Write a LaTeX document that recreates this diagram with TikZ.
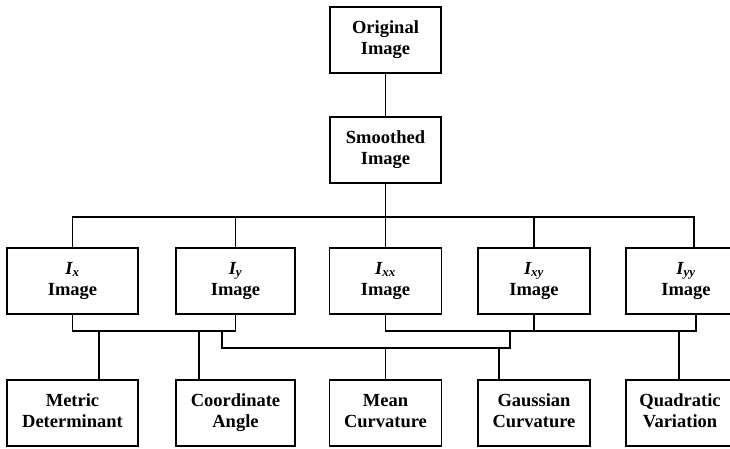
\documentclass[tikz,border=0pt]{standalone}
\usepackage{amsmath}
\usepackage{fontspec}
\setmainfont{Liberation Serif}
\usepackage{tikz}
\usetikzlibrary{positioning}

\newcommand{\dimg}[1]{{\itshape I}$_{\textbf{\textit{#1}}}$}
\newcommand{\topstrut}{\rule{0pt}{18pt}}
\newcommand{\botstrut}{\rule[-4.5pt]{0pt}{4.5pt}}

\begin{document}
\begin{tikzpicture}[x=1pt,y=-1pt]
\tikzstyle{block} = [rectangle, draw, line width=1.4pt, minimum height=66pt, inner sep=0pt, outer sep=0pt, align=center, font=\fontsize{18.5}{21}\selectfont\bfseries, execute at begin node=\topstrut, execute at end node=\botstrut];%
\tikzstyle{wire} = [line width=1.2pt];%

\clip (0,0) rectangle (730,448);

\node at (385.5,40)  [block, minimum width=111pt] (orig) {Original\\Image};
\node at (385.5,150) [block, minimum width=111pt] (smooth) {Smoothed\\Image};

\node at (72.5,281) [block, minimum width=131pt] (ix)  {\dimg{x}\\Image};
\node at (235.5,281) [block, minimum width=119pt] (iy)  {\dimg{y}\\Image};
\node at (385.5,281) [block, minimum width=112pt] (ixx) {\dimg{xx}\\Image};
\node at (534,281)  [block, minimum width=112pt] (ixy) {\dimg{xy}\\Image};
\node at (686,281)  [block, minimum width=120pt] (iyy) {\dimg{yy}\\Image};

\node at (72.5,413) [block, minimum width=131pt] (metric) {Metric\\Determinant};
\node at (235.5,413) [block, minimum width=119pt] (angle) {Coordinate\\Angle};
\node at (385.5,413) [block, minimum width=112pt] (mean) {Mean\\Curvature};
\node at (534,413)  [block, minimum width=112pt] (gauss) {Gaussian\\Curvature};
\node at (680,413)  [block, minimum width=108pt] (quad) {Quadratic\\Variation};

\coordinate (busT) at (0,217);
\coordinate (busA) at (0,331);
\coordinate (busB) at (0,348);
\coordinate (ja) at (222,331);
\coordinate (jc) at (510,331);

% original -> smoothed -> derivatives
\draw[wire] (orig) -- (smooth);
\draw[wire] (smooth) -- (ixx);
\draw[wire] (ix.north) |- ([xshift=8pt]iyy.north |- busT) -- ([xshift=8pt]iyy.north);
\draw[wire] (iy.north) -- (iy.north |- busT);
\draw[wire] (ixy.north) -- (ixy.north |- busT);

% first derivatives
\draw[wire] (ix.south) |- (iy.south |- busA) -- (iy.south);
\draw[wire] ([xshift=26.5pt]metric.north) -- ([xshift=26.5pt]metric.north |- busA);
\draw[wire] ([xshift=-36.5pt]angle.north) -- ([xshift=-36.5pt]angle.north |- busA);

% second derivatives
\draw[wire] (ixx.south) |- ([xshift=10pt]iyy.south |- busA) -- ([xshift=10pt]iyy.south);
\draw[wire] (ixy.south) -- (ixy.south |- busA);
\draw[wire] ([xshift=-1pt]quad.north) -- ([xshift=-1pt]quad.north |- busA);

% both
\draw[wire] (ja) |- (jc |- busB) -- (jc);
\draw[wire] (mean.north) -- (mean.north |- busB);
\draw[wire] ([xshift=-35pt]gauss.north) -- ([xshift=-35pt]gauss.north |- busB);

\end{tikzpicture}
\end{document}
